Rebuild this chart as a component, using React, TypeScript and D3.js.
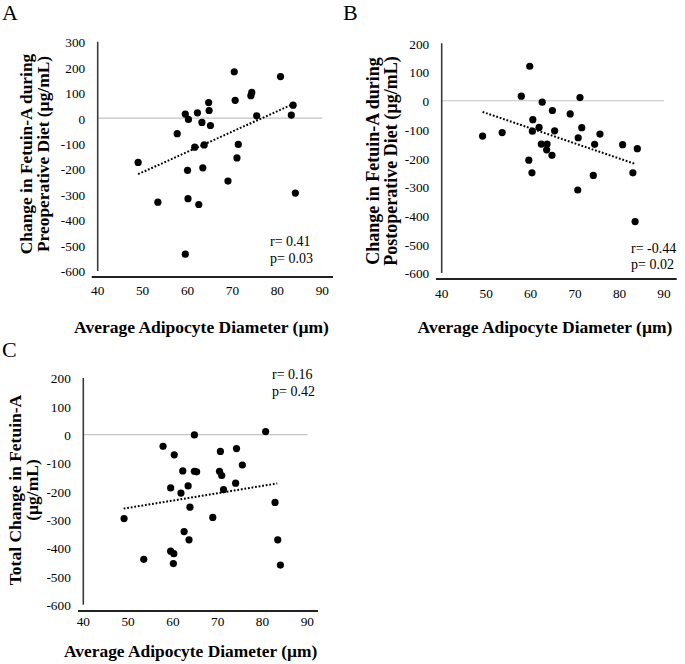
import React from "react";
import * as d3 from "d3";

// ---- Data ----
const diameterA = [49.0, 53.4, 57.7, 59.5, 60.2, 60.0, 60.1, 59.5, 61.6, 62.2, 62.5, 63.2, 63.4, 63.7, 64.7, 64.8, 65.1, 69.0, 70.4, 70.6, 71.0, 71.3, 74.1, 74.3, 75.4, 80.7, 83.1, 83.5, 84.0];
const changePreop = [-174, -330, -61, 16, -5, -205, -316, -534, -114, 21, -339, -17, -195, -105, 61, 30, -29, -247, 182, 70, -156, -103, 88, 101, 9, 163, 12, 51, -294];

const diameterB = [49.2, 53.6, 57.9, 59.8, 60.5, 60.4, 59.6, 60.3, 61.9, 62.6, 62.4, 63.7, 63.6, 64.8, 64.9, 65.4, 68.9, 70.6, 70.7, 71.1, 71.5, 74.4, 74.1, 75.6, 80.7, 83.0, 83.5, 84.0];
const changePostop = [-123, -111, 16, 120, -66, -106, -207, -251, -93, -5, -151, -151, -171, -190, -34, -105, -46, -311, -129, 11, -94, -152, -260, -116, -153, -251, -421, -167];

const diameterC = [49.1, 53.5, 57.8, 59.5, 60.3, 59.5, 60.2, 60.1, 61.8, 62.2, 62.5, 63.4, 63.8, 63.6, 64.8, 64.8, 65.3, 68.9, 70.6, 70.4, 70.9, 71.3, 74.2, 74.0, 75.5, 80.7, 82.8, 83.4, 84.0];
const changeTotal = [-296, -440, -41, -188, -71, -411, -420, -455, -206, -128, -342, -181, -256, -371, -1, -129, -131, -292, -59, -129, -144, -194, -49, -171, -107, 11, -239, -371, -460];

// trend line end points [diameter, change]
const trendA: [number, number][] = [[49.0, -220], [83.1, 52]];
const trendB: [number, number][] = [[49.2, -39], [83.5, -220]];
const trendC: [number, number][] = [[49.0, -261], [83.3, -172]];

const xTicks = [40, 50, 60, 70, 80, 90];
const yTicksA = [300, 200, 100, 0, -100, -200, -300, -400, -500, -600];
const yTicksBC = [200, 100, 0, -100, -200, -300, -400, -500, -600];

const statsA = ["r= 0.41", "p= 0.03"];
const statsB = ["r= -0.44", "p= 0.02"];
const statsC = ["r= 0.16", "p= 0.42"];

const FONT = '"Liberation Serif", "Times New Roman", Times, serif';

type Layout = {
  xRange: [number, number];
  yRange: [number, number]; // pixel for [min, max]
  yDomain: [number, number];
  xAxisY: number;
  xAxisX: [number, number];
  xTickBase: number;
  statsX: number;
  statsBase: [number, number];
  yTitleX: [number, number];
  yTitleCY: number;
  yTitleSize: number;
  xTitleCX: number;
  xTitleBase: number;
  xTitleSize: number;
  letterX: number;
  letterBase: number;
};

function Panel({ xs, ys, trend, yTicks, stats, yTitle, letter, L }: {
  xs: number[]; ys: number[]; trend: [number, number][]; yTicks: number[]; stats: string[];
  yTitle: string[]; letter: string; L: Layout;
}) {
  const x = d3.scaleLinear().domain([40, 90]).range(L.xRange);
  const y = d3.scaleLinear().domain(L.yDomain).range(L.yRange);
  const line = d3.line<[number, number]>().x(d => x(d[0])).y(d => y(d[1]));
  const pts = xs.map((v, i) => [v, ys[i]] as [number, number]);
  return (
    <g fontFamily={FONT}>
      <text x={L.letterX} y={L.letterBase} fontSize={22} fill="#000">{letter}</text>
      {/* zero gridline */}
      <line x1={x(40)} x2={x(90)} y1={y(0)} y2={y(0)} stroke="#c4c4c4" strokeWidth={1.2} />
      {/* y axis */}
      <line x1={x(40)} x2={x(40)} y1={y(L.yDomain[1])} y2={y(L.yDomain[0])} stroke="#3a3a3a" strokeWidth={1.6} />
      {/* x axis */}
      <line x1={L.xAxisX[0]} x2={L.xAxisX[1]} y1={L.xAxisY} y2={L.xAxisY} stroke="#222" strokeWidth={2} />
      {yTicks.map(t => (
        <text key={t} x={x(40) - 12.5} y={y(t) + 5.4} textAnchor="end" fontSize={13.3} fill="#000">{t}</text>
      ))}
      {xTicks.map(t => (
        <text key={t} x={x(t)} y={L.xTickBase} textAnchor="middle" fontSize={13.3} fill="#000">{t}</text>
      ))}
      {pts.map((p, i) => (
        <circle key={i} cx={x(p[0])} cy={y(p[1])} r={3.6} fill="#000" />
      ))}
      <path d={line(trend) || ""} fill="none" stroke="#000" strokeWidth={2} strokeDasharray="1.8 1.8" />
      {stats.map((s, i) => (
        <text key={s} x={L.statsX} y={L.statsBase[i]} fontSize={14} fill="#000">{s}</text>
      ))}
      {yTitle.map((s, i) => (
        <text key={s} transform={`translate(${L.yTitleX[i]},${L.yTitleCY}) rotate(-90)`} textAnchor="middle"
          fontSize={L.yTitleSize} fontWeight="bold" fill="#000">{s}</text>
      ))}
      <text x={L.xTitleCX} y={L.xTitleBase} textAnchor="middle" fontSize={L.xTitleSize} fontWeight="bold" fill="#000">
        Average Adipocyte Diameter (µm)
      </text>
    </g>
  );
}

const layoutA: Layout = {
  xRange: [97.7, 322.3], yRange: [271, 41.7], yDomain: [-600, 300],
  xAxisY: 277, xAxisX: [91.7, 333], xTickBase: 294.5,
  statsX: 270, statsBase: [246, 263],
  yTitleX: [31.7, 49.3], yTitleCY: 154, yTitleSize: 17.4,
  xTitleCX: 201.5, xTitleBase: 333, xTitleSize: 17.5,
  letterX: 2, letterBase: 20,
};
const layoutB: Layout = {
  xRange: [441.7, 664], yRange: [273, 43.3], yDomain: [-600, 200],
  xAxisY: 279, xAxisX: [436, 676.7], xTickBase: 297.6,
  statsX: 631, statsBase: [252.7, 269.3],
  yTitleX: [379.3, 396.7], yTitleCY: 161, yTitleSize: 18,
  xTitleCX: 545, xTitleBase: 333, xTitleSize: 17.5,
  letterX: 343, letterBase: 20,
};
const layoutC: Layout = {
  xRange: [83.3, 307.3], yRange: [604.7, 378], yDomain: [-600, 200],
  xAxisY: 611, xAxisX: [78, 318], xTickBase: 626,
  statsX: 272, statsBase: [379, 396],
  yTitleX: [20.7, 38], yTitleCY: 490, yTitleSize: 17.5,
  xTitleCX: 190.7, xTitleBase: 657, xTitleSize: 17.4,
  letterX: 2, letterBase: 357,
};

export default function App() {
  return (
    <svg width={685} height={664} style={{ position: "absolute", left: 0, top: 0, background: "#fff" }}>
      <rect width={685} height={664} fill="#fff" />
      <Panel xs={diameterA} ys={changePreop} trend={trendA} yTicks={yTicksA} stats={statsA}
        yTitle={["Change in Fetuin-A during", "Preoperative Diet (µg/mL)"]} letter="A" L={layoutA} />
      <Panel xs={diameterB} ys={changePostop} trend={trendB} yTicks={yTicksBC} stats={statsB}
        yTitle={["Change in Fetuin-A during", "Postoperative Diet (µg/mL)"]} letter="B" L={layoutB} />
      <Panel xs={diameterC} ys={changeTotal} trend={trendC} yTicks={yTicksBC} stats={statsC}
        yTitle={["Total Change in Fetuin-A", "(µg/mL)"]} letter="C" L={layoutC} />
    </svg>
  );
}
